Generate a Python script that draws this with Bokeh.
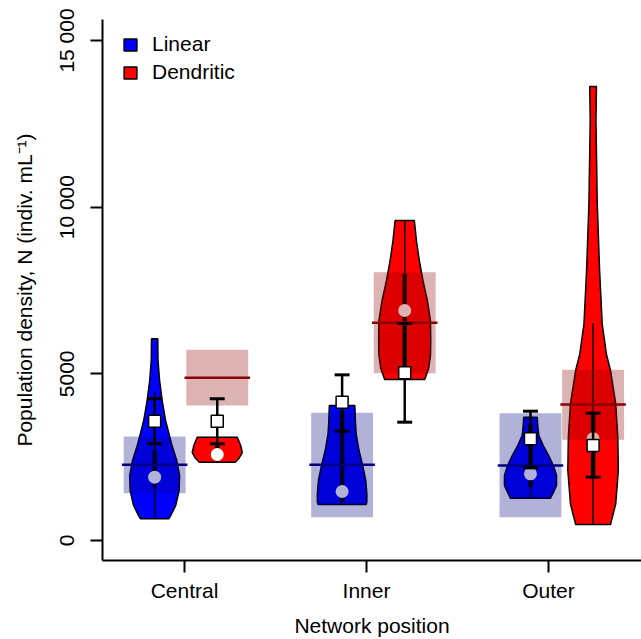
from bokeh.plotting import figure
from bokeh.models import Range1d, FixedTicker, Legend, LegendItem
from bokeh.embed import file_html
from bokeh.resources import INLINE

# ---------------- data ----------------
positions = ["Central", "Inner", "Outer"]
y_ticks = [0, 5000, 10000, 15000]
y_tick_labels = ["0", "5000", "10 000", "15 000"]

# violin outlines: density value (N) from top to bottom, relative half-width
central_linear_y = [6050, 5400, 4800, 4200, 3600, 2900, 2400, 1950, 1500, 1050, 750, 650]
central_linear_w = [0.12, 0.13, 0.19, 0.29, 0.42, 0.65, 0.85, 0.96, 0.94, 0.81, 0.62, 0.54]
central_dendritic_y = [3100, 2850, 2640, 2460, 2350]
central_dendritic_w = [0.77, 0.90, 0.96, 0.83, 0.69]
inner_linear_y = [4050, 3600, 3200, 2700, 2250, 1800, 1410, 1150, 1080]
inner_linear_w = [0.49, 0.51, 0.54, 0.65, 0.79, 0.91, 0.95, 0.95, 0.92]
inner_dendritic_y = [9600, 9000, 8400, 7800, 7200, 6600, 6000, 5550, 5160, 4830]
inner_dendritic_w = [0.37, 0.45, 0.56, 0.70, 0.87, 0.99, 1.00, 0.99, 0.92, 0.77]
outer_linear_y = [3700, 3450, 3150, 2850, 2550, 2250, 1950, 1650, 1440, 1270]
outer_linear_w = [0.26, 0.28, 0.32, 0.49, 0.70, 0.88, 1.00, 1.00, 0.88, 0.77]
outer_dendritic_y = [13620, 12600, 10100, 8100, 6500, 5600, 5100, 4100, 3100, 2100, 1100, 480]
outer_dendritic_w = [0.13, 0.11, 0.16, 0.25, 0.35, 0.51, 0.67, 0.87, 0.95, 0.97, 0.87, 0.67]

# boxplot-like summaries (Central, Inner, Outer)
linear_whisker_lo = [650, 1080, 1270]
linear_whisker_hi = [4450, 4050, 3700]
linear_q1 = [1600, 1150, 1600]
linear_q3 = [2700, 3900, 3500]
linear_median = [1900, 1470, 2000]
linear_mean = [3580, 4150, 3050]
linear_se_lo = [2900, 3280, 2180]
linear_se_hi = [4250, 4970, 3880]

dendritic_whisker_lo = [2350, 4830, 480]
dendritic_whisker_hi = [3100, 9600, 6520]
dendritic_q1 = [2450, 5150, 1900]
dendritic_q3 = [2900, 8000, 3800]
dendritic_median = [2580, 6900, 3050]
dendritic_mean = [3580, 5030, 2850]
dendritic_se_lo = [2900, 3550, 1900]
dendritic_se_hi = [4250, 6510, 3820]

# model predictions: estimate and interval
linear_pred = [2270, 2270, 2250]
linear_pred_lo = [1420, 700, 700]
linear_pred_hi = [3120, 3830, 3820]
dendritic_pred = [4880, 6530, 4080]
dendritic_pred_lo = [4050, 5020, 3020]
dendritic_pred_hi = [5720, 8050, 5120]

# ---------------- layout ----------------
group_pos = [1.008, 2.038, 3.073]
dodge = 0.172
vmax = 0.143      # max violin half-width
rect_hw = 0.17
line_hw = 0.18
cap_hw = 0.041

BLUE = "#0000ff"
RED = "#ff0000"
NAVY = "#000080"
DARKRED = "#8b0000"
FONT = "Liberation Sans"

p = figure(width=641, height=639, output_backend="svg", toolbar_location=None,
           x_range=Range1d(0.5495, 3.511), y_range=Range1d(-599, 15629),
           min_border_left=102, min_border_right=0, min_border_top=19, min_border_bottom=78)
p.outline_line_color = None
p.xgrid.visible = False
p.ygrid.visible = False
p.background_fill_color = "white"
p.border_fill_color = "white"


def violin(center, ys, ws):
    left = [center - w * vmax for w in ws]
    right = [center + w * vmax for w in ws]
    return left + right[::-1], list(ys) + list(ys)[::-1]


lin_x = [g - dodge for g in group_pos]
den_x = [g + dodge for g in group_pos]

lin_profiles = [(central_linear_y, central_linear_w), (inner_linear_y, inner_linear_w),
                (outer_linear_y, outer_linear_w)]
den_profiles = [(central_dendritic_y, central_dendritic_w), (inner_dendritic_y, inner_dendritic_w),
                (outer_dendritic_y, outer_dendritic_w)]

lxs, lys, dxs, dys = [], [], [], []
for c, (ys, ws) in zip(lin_x, lin_profiles):
    a, b = violin(c, ys, ws)
    lxs.append(a); lys.append(b)
for c, (ys, ws) in zip(den_x, den_profiles):
    a, b = violin(c, ys, ws)
    dxs.append(a); dys.append(b)

r_lin = p.patches(lxs, lys, fill_color=BLUE, line_color="black", line_width=1.5)
r_den = p.patches(dxs, dys, fill_color=RED, line_color="black", line_width=1.5)

for xs, wlo, whi, q1, q3, med in [
    (lin_x, linear_whisker_lo, linear_whisker_hi, linear_q1, linear_q3, linear_median),
    (den_x, dendritic_whisker_lo, dendritic_whisker_hi, dendritic_q1, dendritic_q3, dendritic_median),
]:
    p.segment(x0=xs, y0=wlo, x1=xs, y1=whi, line_color="black", line_width=1.5)
    p.segment(x0=xs, y0=q1, x1=xs, y1=q3, line_color="black", line_width=4.5)
    p.scatter(x=xs, y=med, marker="circle", size=13, fill_color="white", line_color=None)

# prediction intervals and estimates
p.quad(left=[x - rect_hw for x in lin_x], right=[x + rect_hw for x in lin_x],
       bottom=linear_pred_lo, top=linear_pred_hi, fill_color=NAVY, fill_alpha=0.3, line_color=None)
p.quad(left=[x - rect_hw for x in den_x], right=[x + rect_hw for x in den_x],
       bottom=dendritic_pred_lo, top=dendritic_pred_hi, fill_color=DARKRED, fill_alpha=0.3, line_color=None)
p.segment(x0=[x - line_hw for x in lin_x], y0=linear_pred, x1=[x + line_hw for x in lin_x], y1=linear_pred,
          line_color=NAVY, line_width=2.5)
p.segment(x0=[x - line_hw for x in den_x], y0=dendritic_pred, x1=[x + line_hw for x in den_x], y1=dendritic_pred,
          line_color=DARKRED, line_width=2.5)

# means with standard errors
for xs, mean, lo, hi in [(lin_x, linear_mean, linear_se_lo, linear_se_hi),
                         (den_x, dendritic_mean, dendritic_se_lo, dendritic_se_hi)]:
    p.segment(x0=xs, y0=lo, x1=xs, y1=hi, line_color="black", line_width=2.5)
    p.segment(x0=[x - cap_hw for x in xs], y0=lo, x1=[x + cap_hw for x in xs], y1=lo,
              line_color="black", line_width=3)
    p.segment(x0=[x - cap_hw for x in xs], y0=hi, x1=[x + cap_hw for x in xs], y1=hi,
              line_color="black", line_width=3)
    p.scatter(x=xs, y=mean, marker="square", size=12, fill_color="white", line_color="black", line_width=1.5)

# axes
for ax in (p.xaxis[0], p.yaxis[0]):
    ax.axis_line_width = 2
    ax.axis_line_color = "black"
    ax.major_tick_line_width = 2
    ax.major_tick_line_color = "black"
    ax.major_tick_out = 12
    ax.major_tick_in = 0
    ax.minor_tick_line_color = None
    ax.major_label_text_font = FONT
    ax.major_label_text_font_size = "21px"
    ax.major_label_text_color = "black"
    ax.axis_label_text_font = FONT
    ax.axis_label_text_font_size = "21px"
    ax.axis_label_text_font_style = "normal"
    ax.axis_label_text_color = "black"

p.xaxis.ticker = FixedTicker(ticks=[1, 2, 3])
p.xaxis.major_label_overrides = {i + 1: name for i, name in enumerate(positions)}
p.xaxis.axis_label = "Network position"
p.xaxis.major_label_standoff = 6
p.xaxis.axis_label_standoff = 9

p.yaxis.ticker = FixedTicker(ticks=y_ticks)
p.yaxis.major_label_overrides = dict(zip(y_ticks, y_tick_labels))
p.yaxis.major_label_orientation = "vertical"
p.yaxis.axis_label = "Population density, N (indiv. mL\u207b\u00b9)"
p.yaxis.major_label_standoff = 12
p.yaxis.axis_label_standoff = 17

legend = Legend(items=[LegendItem(label="Linear", renderers=[r_lin]),
                       LegendItem(label="Dendritic", renderers=[r_den])],
                location=(20, 476), margin=0, padding=0, spacing=4,
                glyph_width=16, glyph_height=15, label_height=23, label_standoff=14,
                label_text_font=FONT, label_text_font_size="21px", label_text_color="black",
                background_fill_alpha=0, border_line_color=None)
p.add_layout(legend)

open("out.html", "w").write(file_html(p, INLINE))
